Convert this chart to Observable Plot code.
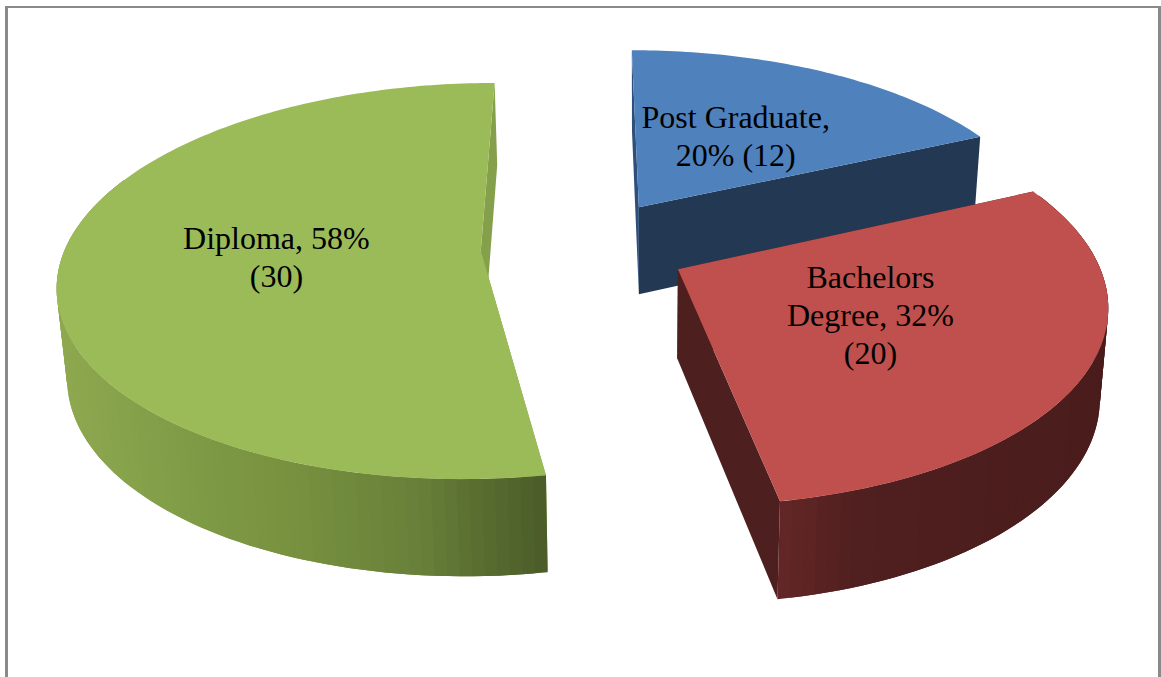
<!DOCTYPE html>
<html>
<head>
<meta charset="utf-8">
<script src="https://cdn.jsdelivr.net/npm/d3@7"></script>
<script src="https://cdn.jsdelivr.net/npm/@observablehq/plot@0.6"></script>
<style>
html,body{margin:0;padding:0;background:#fff;width:1161px;height:677px;overflow:hidden}
#frame{position:absolute;left:5px;top:6px;width:1150px;height:720px;border:solid #8a8a8a;border-width:2px 3px 0 3px;pointer-events:none}
#chart{position:absolute;left:0;top:0}
</style>
</head>
<body>
<div id="chart"></div>
<div id="frame"></div>
<script>
// Data
const categories = ["Post Graduate", "Bachelors Degree", "Diploma"];
const percents = [20, 32, 58];
const counts = [12, 20, 30];
const labelLines = [
  ["Post Graduate,", "20% (12)"],
  ["Bachelors", "Degree, 32%", "(20)"],
  ["Diploma, 58%", "(30)"]
];
const topColors = ["#4F81BD", "#C0504D", "#9BBB59"];
const startWallColors = ["#2E4F7C", "#4E1F1F", "#85A04B"];
const endWallColors = ["#223853", "#4E1F1F", "#85A04B"];

// Perspective view of the exploded, extruded pie
const view = {x0: 584, horizon: -1010, A: 415, B: 1256, p: 0.153, explode: 0.25, d0: 40.4, d1: 47.9, k: -0.018, kx: 640};
const rad = Math.PI / 180;
function topPt([X, Z]) {
  const w = 1 + view.p * Z;
  return [view.x0 + view.A * X / w, view.horizon + view.B / w, w];
}
function botPt(pt) {
  const [x, y, w] = topPt(pt);
  return [x + view.k * (x - view.kx), y + view.d0 + view.d1 / w];
}

const total = d3.sum(percents);
let acc = 0;
const slices = percents.map((v, i) => {
  const a0 = acc * 360 / total; acc += v; const a1 = acc * 360 / total;
  const mid = (a0 + a1) / 2;
  const c = [view.explode * Math.sin(mid * rad), view.explode * Math.cos(mid * rad)];
  return {i, a0, a1, mid, c};
});
const polar = (s, r, a) => [s.c[0] + r * Math.sin(a * rad), s.c[1] + r * Math.cos(a * rad)];

const wallShade = [
  d3.scaleLinear().domain([600, 1000]).range(["#223853", "#223853"]),
  d3.scaleLinear().domain([775, 860, 1110]).range(["#642726", "#501F1F", "#4A1C1C"]).clamp(true),
  d3.scaleLinear().domain([60, 140, 300, 420, 480, 547]).range(["#8DA84F", "#84A049", "#76903F", "#677F38", "#596D30", "#4A5B29"]).clamp(true)
];

const polys = [];
let nextId = 0;
function addPoly(points, color) {
  const id = nextId++;
  for (const [x, y] of points) polys.push({id, x, y, color});
}
const sweep = (s, step) => {
  const n = Math.ceil((s.a1 - s.a0) / step);
  return d3.range(n + 1).map(j => s.a0 + (s.a1 - s.a0) * j / n);
};
for (const idx of [0, 2, 1]) {
  const s = slices[idx];
  const apex = s.c;
  const start = polar(s, 1, s.a0), end = polar(s, 1, s.a1);
  // radial walls
  addPoly([topPt(apex), topPt(start), botPt(start), botPt(apex)], startWallColors[idx]);
  addPoly([topPt(apex), topPt(end), botPt(end), botPt(apex)], endWallColors[idx]);
  // outer curved wall: only the part turned towards the viewer.
  // Each strip runs on under the next one (painted later), so no seams show.
  const strips = sweep(s, 1.5);
  const visible = strips.filter(a => Math.cos(a * rad) <= 0.4);
  const order = idx === 1 ? [...visible].reverse() : visible;
  for (let j = 0; j < order.length - 1; j++) {
    const arc = order.slice(j, j + 3).map(a => polar(s, 1, a));
    const xm = (topPt(arc[0])[0] + topPt(arc[1])[0]) / 2;
    addPoly([...arc.map(topPt), ...[...arc].reverse().map(botPt)], wallShade[idx](xm));
  }
  // top face
  addPoly([topPt(apex), ...sweep(s, 1).map(a => topPt(polar(s, 1, a)))], topColors[idx]);
}

const labelRadius = 0.488;
const labels = slices.map(s => {
  const [x, y] = topPt(polar(s, labelRadius, s.mid));
  return {x, y, text: labelLines[s.i].join("\n")};
});

const plot = Plot.plot({
  width: 1161, height: 677,
  margin: 0,
  x: {domain: [0, 1161], range: [0, 1161], axis: null},
  y: {domain: [0, 677], range: [0, 677], axis: null},
  color: {type: "identity"},
  style: {background: "transparent"},
  marks: [
    Plot.line(polys, {x: "x", y: "y", z: "id", fill: "color", stroke: "none", curve: "linear"}),
    Plot.text(labels, {x: "x", y: "y", dy: -2.5, text: "text", fontSize: 32, lineHeight: 1.19, fontFamily: "Liberation Serif", fill: "#000", textAnchor: "middle", lineAnchor: "middle"})
  ]
});
document.getElementById("chart").appendChild(plot);
</script>
</body>
</html>
